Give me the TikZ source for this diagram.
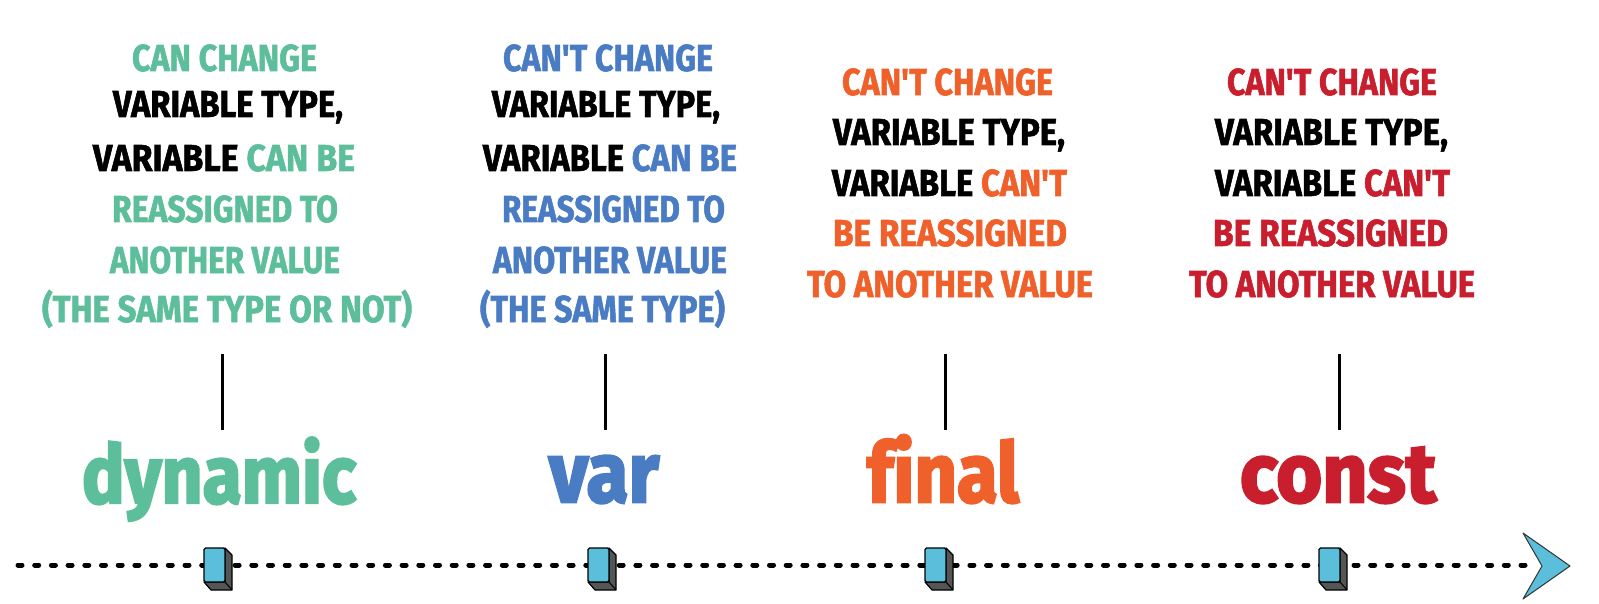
\documentclass[tikz,border=0pt]{standalone}
\usepackage{fontspec}
\usepackage{graphicx}
\newfontfamily\capsf{Fira Sans}[Ligatures={TeXOff,CommonOff},BoldFeatures={FakeBold=1.6}]
\newfontfamily\headf{Fira Sans}[Ligatures={TeXOff,CommonOff},BoldFeatures={FakeBold=3}]
\definecolor{cgreen}{RGB}{92,190,155}
\definecolor{cblue}{RGB}{74,124,196}
\definecolor{corange}{RGB}{240,96,42}
\definecolor{cred}{RGB}{200,30,45}
\definecolor{mkblue}{RGB}{91,190,219}
\definecolor{mkgray}{RGB}{85,85,85}
\tikzset{
  txt/.style={anchor=base west,inner sep=0pt,outer sep=0pt},
  tick/.style={line width=3pt,black},
  timeline/.style={line width=5pt,black,line cap=round,dash pattern=on 4pt off 12.7pt},
  mkside/.style={fill=mkgray,draw=black,line width=1.2pt,line join=round},
  mkfront/.style={fill=mkblue,draw=black,line width=1.2pt,rounded corners=1.5pt},
  arrowhd/.style={fill=mkblue,draw=black!80,line width=1pt,line join=round}
}
\newcommand\tline[5]{\node[txt] (#1) at (#2,#4) {\resizebox{\dimexpr #3pt-#2pt\relax}{26pt}{\capsf\bfseries\smash{#5}\vphantom{H}}};}
\newcommand\hdline[6]{\node[txt] (#1) at (#2,#4) {\resizebox{\dimexpr #3pt-#2pt\relax}{#5pt}{\headf\bfseries\smash{#6}\vphantom{x}}};}
\newcommand\mk[2]{%
  \coordinate (#1) at (#2,548);
  \draw[mkside] (#1) ++(21,0) -- ++(7,7) -- ++(0,35) -- ++(-21,0) -- ++(-7,-8) -- ++(21,0) -- cycle;
  \draw[black,line width=1pt] (#1) ++(21,34) -- ++(7,8);
  \draw[mkfront] (#1) rectangle ++(21,34);
}
\begin{document}
\begin{tikzpicture}[x=1pt,y=-1pt]
\useasboundingbox[fill=white] (0,0) rectangle (1599,604);
% column 1
\tline{a1}{132}{317}{71}{\color{cgreen}CAN CHANGE}
\tline{a2}{113}{343}{117}{\color{black}VARIABLE TYPE,}
\tline{a3}{93}{355}{171}{\color{black}VARIABLE \color{cgreen}CAN BE}
\tline{a4}{112}{338}{222}{\color{cgreen}REASSIGNED TO}
\tline{a5}{110}{340}{273}{\color{cgreen}ANOTHER VALUE}
\tline{a6}{42}{412}{322}{\color{cgreen}(THE SAME TYPE OR NOT)}
% column 2
\tline{b1}{503}{713}{71}{\color{cblue}CAN'T CHANGE}
\tline{b2}{492}{720}{117}{\color{black}VARIABLE TYPE,}
\tline{b3}{483}{737}{171}{\color{black}VARIABLE \color{cblue}CAN BE}
\tline{b4}{502}{725}{222}{\color{cblue}REASSIGNED TO}
\tline{b5}{493}{727}{273}{\color{cblue}ANOTHER VALUE}
\tline{b6}{480}{725}{322}{\color{cblue}(THE SAME TYPE)}
% column 3
\tline{c1}{842}{1053}{95}{\color{corange}CAN'T CHANGE}
\tline{c2}{833}{1065}{145}{\color{black}VARIABLE TYPE,}
\tline{c3}{832}{1067}{196}{\color{black}VARIABLE \color{corange}CAN'T}
\tline{c4}{833}{1067}{246}{\color{corange}BE REASSIGNED}
\tline{c5}{807}{1093}{297}{\color{corange}TO ANOTHER VALUE}
% column 4
\tline{d1}{1227}{1437}{95}{\color{cred}CAN'T CHANGE}
\tline{d2}{1215}{1448}{145}{\color{black}VARIABLE TYPE,}
\tline{d3}{1215}{1450}{196}{\color{black}VARIABLE \color{cred}CAN'T}
\tline{d4}{1213}{1448}{246}{\color{cred}BE REASSIGNED}
\tline{d5}{1189}{1475}{297}{\color{cred}TO ANOTHER VALUE}
% ticks
\foreach \n/\x in {1/222,2/605,3/945,4/1339}{
  \coordinate (t\n a) at (\x,354);
  \coordinate (t\n b) at (\x,430);
  \draw[tick] (t\n a) -- (t\n b);
}
% headings
\hdline{h1}{82}{356}{503}{43}{\color{cgreen}dynamic}
\hdline{h2}{549}{659}{502}{45}{\color{cblue}var}
\hdline{h3}{867}{1019}{502}{44}{\color{corange}final}
\hdline{h4}{1240}{1436}{502}{44}{\color{cred}const}
% timeline
\coordinate (tl0) at (18,565);
\coordinate (tl1) at (1530,565);
\draw[timeline] (tl0) -- (tl1);
\coordinate (ar1) at (1523,533);
\coordinate (ar2) at (1570,566);
\coordinate (ar3) at (1523,599);
\coordinate (ar4) at (1542,566);
\draw[arrowhd] (ar1) -- (ar2) -- (ar3) -- (ar4) -- cycle;
\mk{m1}{204}
\mk{m2}{588}
\mk{m3}{925}
\mk{m4}{1319}
\end{tikzpicture}
\end{document}
